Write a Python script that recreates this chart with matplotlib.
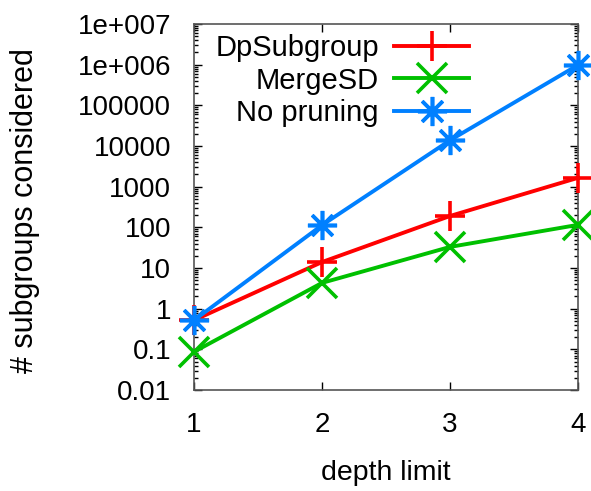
import matplotlib
matplotlib.use("Agg")
import matplotlib.pyplot as plt
from matplotlib.ticker import FixedLocator, FixedFormatter, LogLocator, NullFormatter

plt.rcParams['font.family'] = ['Liberation Sans', 'DejaVu Sans']

depth = [1, 2, 3, 4]
dp_subgroup = [0.52, 14, 190, 1650]
merge_sd = [0.087, 4.3, 33, 115]
no_pruning = [0.52, 113, 13800, 980000]

y_ticks = [0.01, 0.1, 1, 10, 100, 1000, 1e4, 1e5, 1e6, 1e7]
y_labels = ["0.01", "0.1", "1", "10", "100", "1000", "10000", "100000", "1e+006", "1e+007"]
x_ticks = [1, 2, 3, 4]
x_labels = ["1", "2", "3", "4"]

fs = 20
fig = plt.figure(figsize=(5.91, 4.91), dpi=100)
ax = fig.add_axes([194/591, 1 - 390/491, 384/591, 366/491])

lw = 2.8
ms = 21
mew = 2.6
ax.plot(depth, dp_subgroup, color='#ff0000', lw=lw, marker='+', ms=ms, mew=mew,
        label='DpSubgroup', clip_on=False, zorder=3)
ax.plot(depth, merge_sd, color='#00c000', lw=lw, marker='x', ms=ms, mew=mew,
        label='MergeSD', clip_on=False, zorder=3)
ax.plot(depth, no_pruning, color='#0080ff', lw=lw, marker=(8, 2, 0), ms=ms, mew=mew,
        label='No pruning', clip_on=False, zorder=3)

ax.set_yscale('log')
ax.set_ylim(0.01, 1e7)
ax.set_xlim(1, 4)
ax.yaxis.set_major_locator(FixedLocator(y_ticks))
ax.yaxis.set_major_formatter(FixedFormatter(y_labels))
ax.yaxis.set_minor_locator(LogLocator(base=10, subs=range(2, 10), numticks=20))
ax.yaxis.set_minor_formatter(NullFormatter())
ax.xaxis.set_major_locator(FixedLocator(x_ticks))
ax.xaxis.set_major_formatter(FixedFormatter(x_labels))

ax.tick_params(axis='both', which='major', direction='in', length=6, width=1,
               top=True, right=True, labelsize=fs)
ax.tick_params(axis='x', which='major', pad=15.5)
ax.tick_params(axis='y', which='major', pad=16.5)
ax.tick_params(axis='y', which='minor', direction='in', length=3, width=1, right=True, left=True)
for s in ax.spines.values():
    s.set_linewidth(1.2)
    s.set_color('#555555')

ax.set_xlabel('depth limit', fontsize=20.5, labelpad=16)
ax.set_ylabel('# subgroups considered', fontsize=22)
ax.yaxis.set_label_coords(-0.40, 0.49)

leg = ax.legend(loc='upper left', bbox_to_anchor=(0.01, 1.02), frameon=False, markerfirst=False,
                fontsize=21, handlelength=2.55, handletextpad=0.53, labelspacing=0.15,
                borderaxespad=0.2)

fig.savefig('out.png', dpi=100)
